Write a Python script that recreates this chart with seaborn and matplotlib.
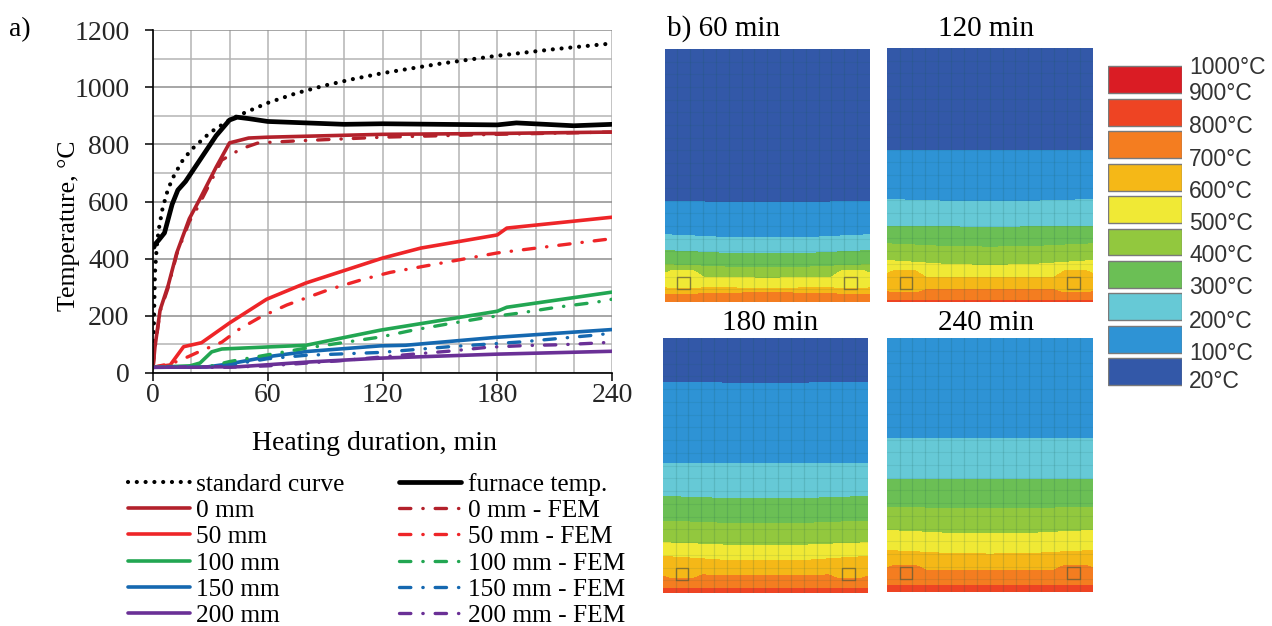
import numpy as np
import pandas as pd
import matplotlib
matplotlib.use("Agg")
import matplotlib.pyplot as plt
import seaborn as sns
from matplotlib.colors import ListedColormap
from matplotlib.patches import Rectangle

# --- a) temperature curves (minutes, deg C)
std_t = [0, 1, 2, 3, 5, 7.5, 10, 15, 20, 30, 40, 45, 60, 75, 90, 105, 120, 150, 180, 210, 240]
std_y = [20, 349, 445, 502, 576, 635, 678, 739, 781, 842, 885, 902, 945, 979, 1006, 1029, 1049, 1082, 1110, 1133, 1153]
furn_t = [0.5, 1, 3, 6, 10, 13, 17, 25, 33, 40, 44, 50, 60, 80, 100, 120, 150, 180, 190, 220, 240]
furn_y = [440, 450, 465, 490, 590, 640, 670, 750, 830, 885, 895, 890, 880, 875, 870, 872, 870, 868, 875, 865, 870]
mm0_t = [0, 1, 3.7, 8, 12.4, 19, 24.6, 33, 40, 50, 60, 120, 180, 240]
mm0_y = [18, 90, 220, 308, 420, 540, 610, 720, 805, 822, 825, 835, 838, 843]
mm0f_t = [0, 1, 3.7, 8, 12.4, 19, 23, 36, 46, 55, 75, 120, 180, 240]
mm0f_y = [18, 85, 215, 300, 415, 530, 575, 745, 784, 805, 812, 825, 835, 843]
mm50_t = [0, 9, 16, 25.4, 40, 59.4, 80, 120, 140, 180, 185, 240]
mm50_y = [20, 28, 92, 106, 175, 258, 315, 402, 437, 483, 507, 545]
mm50f_t = [0, 10.5, 18.4, 23.6, 36, 45, 56, 70, 92.5, 110, 124, 153.6, 180, 240]
mm50f_y = [20, 35, 57, 73, 108, 153, 195, 238, 293, 328, 352, 388, 420, 470]
mm100_t = [0, 19.4, 24.6, 30.7, 36, 80, 119, 180, 185, 240]
mm100_y = [20, 25, 35, 74, 84, 97, 150, 216, 230, 283]
mm100f_t = [0, 30, 40, 59.4, 80, 98, 119, 136, 153.6, 175, 192, 211, 232, 240]
mm100f_y = [20, 24, 40, 63, 87, 105, 126, 150, 171, 195, 210, 230, 248, 258]
mm150_t = [0, 28, 40, 60, 80, 119, 132, 180, 240]
mm150_y = [20, 21, 32, 57, 75, 95, 97, 125, 152]
mm150f_t = [0, 30, 40, 60, 80, 119, 155, 175, 193, 214, 232, 240]
mm150f_y = [20, 21, 28, 50, 62, 72, 92, 101, 109, 122, 133, 140]
mm200_t = [0, 45, 80, 119, 180, 240]
mm200_y = [20, 22, 38, 52, 66, 76]
mm200f_t = [0, 40, 60, 98, 136, 156, 175, 194.5, 214, 232.8, 240]
mm200f_y = [20, 20, 25, 43, 66, 77, 90, 96, 99, 105, 108]

labels_col1 = ["standard curve", "0 mm", "50 mm", "100 mm", "150 mm", "200 mm"]
labels_col2 = ["furnace temp.", "0 mm - FEM", "50 mm - FEM", "100 mm - FEM", "150 mm - FEM", "200 mm - FEM"]

# --- b) band edges, percent of panel height from the top, (edge, centre, rebar bulge)
band_colors = ["#3358A8", "#2E93D5", "#66C9D6", "#6BBF55", "#92C83E",
               "#F0E935", "#F5B817", "#F47D20", "#EE4423", "#DA1C24"]
band_labels = ["1000°C", "900°C", "800°C", "700°C", "600°C", "500°C",
               "400°C", "300°C", "200°C", "100°C", "20°C"]
panel_titles = ["b) 60 min", "120 min", "180 min", "240 min"]
edges_60 = [(60.0, 60.6, 0), (73.3, 74.6, 0), (79.6, 80.9, 0), (85.2, 86.3, 0),
            (90.0, 90.5, -2.6), (94.0, 94.5, 0.6), (96.7, 96.4, 0.4)]
edges_120 = [(40.1, 40.1, 0), (59.5, 60.3, 0), (70.0, 70.4, 0), (77.0, 78.3, 0),
             (83.6, 85.5, 0), (90.0, 90.4, -2.4), (95.1, 95.1, 1.3), (99.4, 99.4, 0)]
edges_180 = [(17.0, 17.4, 0), (48.9, 48.9, 0), (62.0, 62.9, 0), (71.7, 72.7, 0),
             (80.2, 81.3, 0), (85.6, 87.4, 0), (92.4, 93.3, 1.7), (98.3, 98.3, 0)]
edges_240 = [(0, 0, 0), (39.5, 39.5, 0), (55.7, 55.7, 0), (66.6, 67.0, 0),
             (75.7, 77.0, 0), (83.6, 85.0, 0), (91.4, 91.4, -1.9), (97.4, 97.4, 0)]

bow_x = [0, 0.15, 0.3, 0.5, 0.7, 0.85, 1]
bow_w = [1, 0.6, 0.15, 0, 0.15, 0.6, 1]
rebar_x = [0, 0.03, 0.06, 0.14, 0.19, 0.81, 0.86, 0.94, 0.97, 1]
rebar_w = [0.6, 1, 1, 1, 0, 0, 1, 1, 1, 0.6]

W, H = 1272, 626

sns.set_theme(style="white")
plt.rcParams["font.family"] = ["Liberation Serif", "DejaVu Serif"]
plt.rcParams["mathtext.fontset"] = "stix"


def ax_px(left, top, right, bottom):
    return fig.add_axes([left / W, 1 - bottom / H, (right - left) / W, (bottom - top) / H])


def text_px(x, y, s, **kw):
    kw.setdefault("va", "center")
    kw.setdefault("color", "black")
    fig.text(x / W, 1 - y / H, s, **kw)


fig = plt.figure(figsize=(W / 100, H / 100), dpi=100)

# a) line chart
ax = ax_px(153, 30, 612, 373)
black, dred, red, green, blue, purple = "black", "#B3212B", "#EE2528", "#22A652", "#1568B0", "#6A3096"
dashdot = (0, (3.4, 3.6, 0.1, 3.6))
solid_w, fem_w = 2.6, 2.4

series = [
    (std_t, std_y, labels_col1[0], black, (0, (0.01, 2.1)), 3.0),
    (mm0_t, mm0_y, labels_col1[1], dred, "-", solid_w),
    (mm50_t, mm50_y, labels_col1[2], red, "-", solid_w),
    (mm100_t, mm100_y, labels_col1[3], green, "-", solid_w),
    (mm150_t, mm150_y, labels_col1[4], blue, "-", solid_w),
    (mm200_t, mm200_y, labels_col1[5], purple, "-", solid_w),
    (furn_t, furn_y, labels_col2[0], black, "-", 3.4),
    (mm0f_t, mm0f_y, labels_col2[1], dred, dashdot, fem_w),
    (mm50f_t, mm50f_y, labels_col2[2], red, dashdot, fem_w),
    (mm100f_t, mm100f_y, labels_col2[3], green, dashdot, fem_w),
    (mm150f_t, mm150f_y, labels_col2[4], blue, dashdot, fem_w),
    (mm200f_t, mm200f_y, labels_col2[5], purple, dashdot, fem_w),
]
for t, y, name, col, ls, lw in series:
    sns.lineplot(x=t, y=y, ax=ax, color=col, linestyle=ls, linewidth=lw, label=name,
                 estimator=None, errorbar=None, dash_capstyle="round", legend=False)

ax.set_xlim(0, 240)
ax.set_ylim(0, 1200)
ax.set_xticks(range(0, 241, 60))
ax.set_yticks(range(0, 1201, 200))
ax.set_xticks(range(0, 241, 20), minor=True)
ax.set_yticks(range(0, 1201, 100), minor=True)
ax.grid(True, which="major", axis="y", color="#8E8E8E", linewidth=1.1)
ax.grid(True, which="minor", axis="y", color="#B4B4B4", linewidth=1.1)
ax.grid(True, which="both", axis="x", color="#B4B4B4", linewidth=1.1)
ax.set_axisbelow(True)
ax.tick_params(which="major", direction="out", length=6, width=1.1, color="black",
               labelsize=20, bottom=True, left=True)
ax.tick_params(axis="y", which="major", pad=11)
ax.tick_params(axis="x", which="major", pad=1)
ax.tick_params(which="minor", length=0)
for side in ["top", "right"]:
    ax.spines[side].set_visible(False)
for side in ["left", "bottom"]:
    ax.spines[side].set_color("black")
    ax.spines[side].set_linewidth(1.2)
ax.set_xlabel("")
ax.set_ylabel("")
text_px(375, 443, "Heating duration, min", fontsize=20, ha="center")
text_px(69, 226, "Temperature, °C", fontsize=18.5, ha="center", rotation=90)
text_px(9, 30, "a)", fontsize=20)

handles = {ln.get_label(): ln for ln in ax.get_lines()}
names = labels_col1 + labels_col2
fig.legend([handles[n] for n in names], names, ncol=2, frameon=False, fontsize=18.3,
           loc="upper left", bbox_to_anchor=(120.4 / W, 1 - 465 / H), borderaxespad=0,
           borderpad=0.3, handlelength=2.44, handletextpad=0.24, columnspacing=2.16,
           labelspacing=0.14, labelcolor="black")

# b) temperature fields
band_cmap = ListedColormap(band_colors)
panel_boxes = [(664.5, 49, 870, 302), (886.7, 48, 1092.7, 302),
               (662.7, 338, 868, 593), (886.7, 338, 1093, 592)]
panel_edges = [edges_60, edges_120, edges_180, edges_240]
n_cols, n_rows = 16, 20

for box, edges in zip(panel_boxes, panel_edges):
    pax = ax_px(*box)
    nx, ny = int(box[2] - box[0]), int(box[3] - box[1])
    xs = np.linspace(0, 1, nx)
    depth = np.linspace(0, 100, ny)[:, None]
    bow = np.interp(xs, bow_x, bow_w)
    rebar = np.interp(xs, rebar_x, rebar_w)
    field = np.zeros((ny, nx))
    for edge, centre, bulge in edges:
        line = centre + (edge - centre) * bow + bulge * rebar
        field += depth >= line[None, :]
    sns.heatmap(field, ax=pax, cmap=band_cmap, vmin=-0.5, vmax=9.5, cbar=False,
                xticklabels=False, yticklabels=False)
    for c in range(1, n_cols):
        pax.axvline(c * nx / n_cols, color="#1A5A50", alpha=0.16, linewidth=0.9)
    for r in range(1, n_rows):
        pax.axhline(r * ny / n_rows, color="#1A5A50", alpha=0.10, linewidth=0.8)
    for c in (1, n_cols - 2):
        pax.add_patch(Rectangle((c * nx / n_cols, 18 * ny / n_rows), nx / n_cols, ny / n_rows,
                                fill=False, edgecolor="#6B5A35", linewidth=1.0, alpha=0.7))

title_pos = [(667, 29, "left"), (986, 29, "center"), (770, 323, "center"), (986, 323, "center")]
for (x, y, ha), title in zip(title_pos, panel_titles):
    text_px(x, y, title, fontsize=21, ha=ha)

# colour key
kax = ax_px(1107.7, 63.5, 1181.7, 388)
key = pd.DataFrame({"band": band_labels[:-1], "width": 1})
sns.barplot(data=key, y="band", x="width", hue="band", palette=band_colors[::-1], ax=kax,
            width=0.83, edgecolor="#7A7A7A", linewidth=1.0, legend=False, dodge=False, saturation=1)
kax.set_xlim(0, 1)
kax.axis("off")
label_y = [68, 94, 126, 159, 191, 223, 256, 288, 321, 353, 381]
for y, lab in zip(label_y, band_labels):
    text_px(1189, y, lab, fontsize=16.5, family="Liberation Sans", color="#333333")

fig.savefig("out.png", dpi=100)
